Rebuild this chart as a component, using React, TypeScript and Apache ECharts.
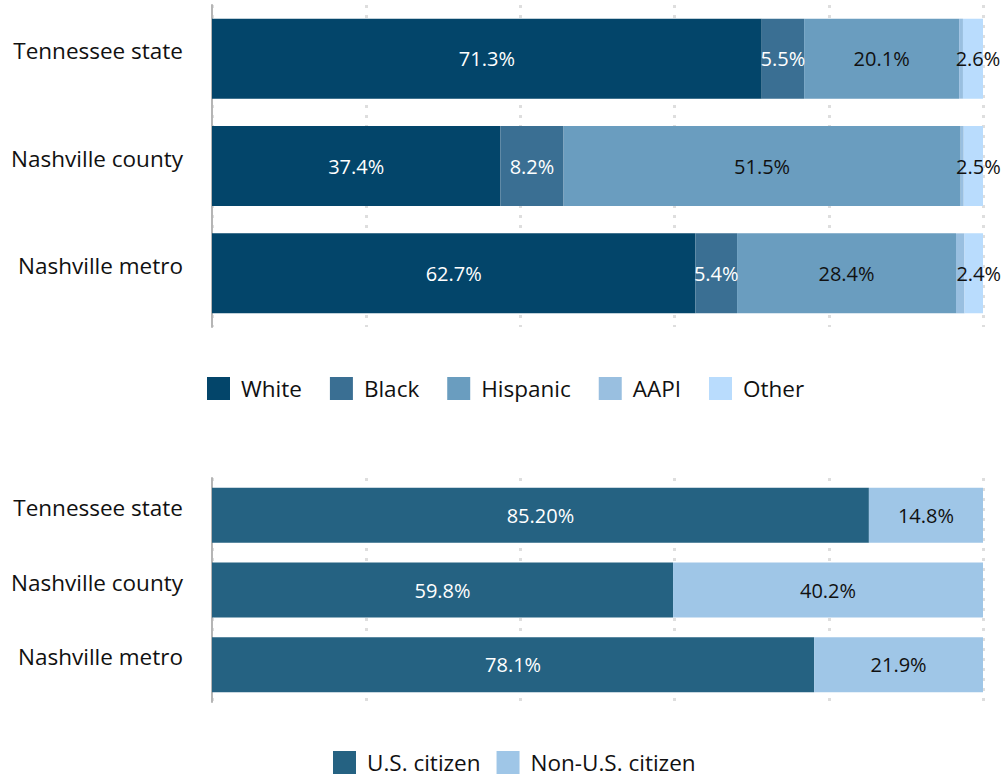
import React, { useEffect, useRef } from "react";
import * as echarts from "echarts";

const categories = ["Tennessee state", "Nashville county", "Nashville metro"];
const white = [71.3, 37.4, 62.7];
const black = [5.5, 8.2, 5.4];
const hispanic = [20.1, 51.5, 28.4];
const aapi = [0.5, 0.4, 1.1];
const other = [2.6, 2.5, 2.4];

const usCitizen = [85.2, 59.8, 78.1];
const usCitizenLabels = ["85.20%", "59.8%", "78.1%"];
const nonUsCitizen = [14.8, 40.2, 21.9];
const nonUsCitizenLabels = ["14.8%", "40.2%", "21.9%"];

const xTicks = [0, 20, 40, 60, 80, 100];

const FONT = "'Open Sans'";

export default function App() {
  const ref = useRef<HTMLDivElement>(null);
  useEffect(() => {
    if (!ref.current) return;
    const chart = echarts.init(ref.current, null, { renderer: "svg" });
    const labelBase = (color: string, texts?: string[]) => ({
      show: true,
      position: "inside",
      color,
      fontFamily: FONT,
      fontSize: 20,
      formatter: (p: any) => (texts ? texts[p.dataIndex] : p.value + "%"),
    });
    const xAxisBase = (gridIndex: number) => ({
      type: "value",
      gridIndex,
      min: xTicks[0],
      max: xTicks[xTicks.length - 1],
      interval: xTicks[1] - xTicks[0],
      axisLabel: { show: false },
      axisLine: { show: false },
      axisTick: { show: false },
      splitLine: {
        show: true,
        lineStyle: { color: "#dedede", width: 3, type: [3, 7] },
      },
    });
    const yAxisBase = (gridIndex: number) => ({
      type: "category",
      gridIndex,
      data: categories,
      inverse: true,
      axisLine: { show: true, lineStyle: { color: "#b5b5b5", width: 2 } },
      axisTick: { show: false },
      axisLabel: {
        color: "#111",
        fontFamily: FONT,
        fontSize: 22.5,
        margin: 29,
        formatter: (v: string) => `{a|${v}}`,
        rich: {
          a: {
            color: "#111",
            fontFamily: FONT,
            fontSize: 22.5,
            padding: [0, 0, 16, 0],
          },
        },
      },
    });
    const topSeries = [
      { name: "White", data: white, color: "#03456a", label: labelBase("#fff") },
      { name: "Black", data: black, color: "#3a6f93", label: labelBase("#fff") },
      { name: "Hispanic", data: hispanic, color: "#6a9dbf", label: labelBase("#111") },
      { name: "AAPI", data: aapi, color: "#99bfe0", label: { show: false } },
      { name: "Other", data: other, color: "#b9dcfd", label: { ...labelBase("#111"), offset: [5, 0] } },
    ].map((s) => ({
      type: "bar",
      stack: "race",
      xAxisIndex: 0,
      yAxisIndex: 0,
      barWidth: 80,
      name: s.name,
      data: s.data,
      itemStyle: { color: s.color },
      label: s.label,
    }));
    const bottomSeries = [
      { name: "U.S. citizen", data: usCitizen, color: "#256282", label: labelBase("#fff", usCitizenLabels) },
      { name: "Non-U.S. citizen", data: nonUsCitizen, color: "#9fc6e7", label: labelBase("#111", nonUsCitizenLabels) },
    ].map((s) => ({
      type: "bar",
      stack: "cit",
      xAxisIndex: 1,
      yAxisIndex: 1,
      barWidth: 55,
      name: s.name,
      data: s.data,
      itemStyle: { color: s.color },
      label: s.label,
    }));
    const legendBase = {
      icon: "rect",
      padding: 0,
      itemWidth: 23,
      itemHeight: 23,
      textStyle: {
        color: "#111",
        fontFamily: FONT,
        fontSize: 22.5,
        lineHeight: 23,
        padding: [0, 0, 0, 6],
      },
    };
    chart.setOption({
      animation: false,
      textStyle: { fontFamily: FONT },
      grid: [
        { left: 212, right: 24, top: 5, height: 322 },
        { left: 212, right: 24, top: 478, height: 224 },
      ],
      xAxis: [xAxisBase(0), xAxisBase(1)],
      yAxis: [yAxisBase(0), yAxisBase(1)],
      legend: [
        { ...legendBase, itemGap: 28, left: 207, top: 377, data: ["White", "Black", "Hispanic", "AAPI", "Other"] },
        { ...legendBase, itemGap: 16, left: 333, top: 751, data: ["U.S. citizen", "Non-U.S. citizen"] },
      ],
      series: [...topSeries, ...bottomSeries],
    });
    return () => chart.dispose();
  }, []);
  return (
    <div
      ref={ref}
      style={{ position: "fixed", left: 0, top: 0, width: 1007, height: 778, background: "#fff" }}
    />
  );
}
